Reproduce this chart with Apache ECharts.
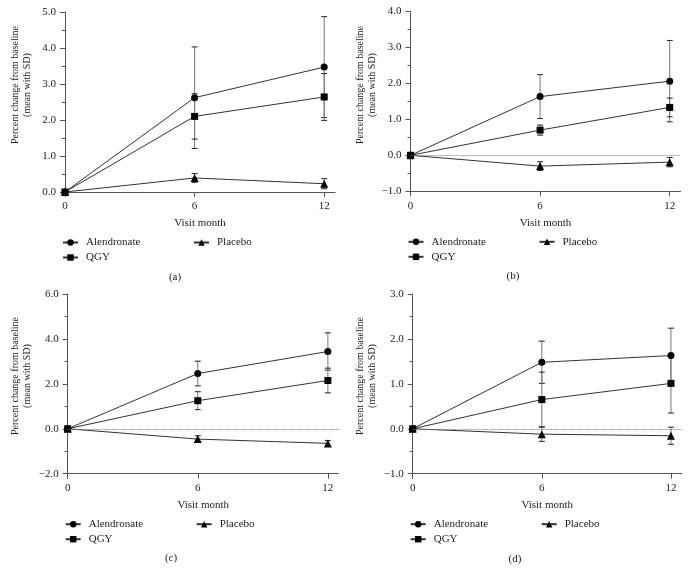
<!DOCTYPE html>
<html>
<head>
<meta charset="utf-8">
<script src="https://cdn.jsdelivr.net/npm/echarts@6/dist/echarts.min.js"></script>
<style>
html,body{margin:0;padding:0;background:#fff;}
#c{width:689px;height:580px;}
</style>
</head>
<body>
<div id="c"></div>
<script>
// ---- data ----
const months = [0, 6, 12];
const xTicks = [0, 6, 12];
const panelLabels = ['(a)', '(b)', '(c)', '(d)'];
const seriesNames = ['Alendronate', 'QGY', 'Placebo'];
const yTitle = 'Percent change from baseline\n(mean with SD)';
const xTitle = 'Visit month';

const alendA = [0, 2.62, 3.47];
const alendSdA = [0, 1.41, 1.40];
const qgyA = [0, 2.10, 2.64];
const qgySdA = [0, 0.63, 0.65];
const placA = [0, 0.39, 0.23];
const placSdA = [0, 0.12, 0.14];

const alendB = [0, 1.63, 2.06];
const alendSdB = [0, 0.61, 1.13];
const qgyB = [0, 0.70, 1.33];
const qgySdB = [0, 0.14, 0.26];
const placB = [0, -0.30, -0.19];
const placSdB = [0, 0.12, 0.13];

const alendC = [0, 2.46, 3.44];
const alendSdC = [0, 0.55, 0.83];
const qgyC = [0, 1.25, 2.15];
const qgySdC = [0, 0.40, 0.55];
const placC = [0, -0.46, -0.65];
const placSdC = [0, 0.15, 0.13];

const alendD = [0, 1.48, 1.63];
const alendSdD = [0, 0.47, 0.61];
const qgyD = [0, 0.65, 1.01];
const qgySdD = [0, 0.61, 0.66];
const placD = [0, -0.12, -0.155];
const placSdD = [0, 0.16, 0.19];

const yMins = [0, -1, -2, -1];
const yMaxs = [5, 4, 6, 3];
const ySteps = [1, 1, 2, 1];

// ---- layout ----
const FONT = "'Liberation Serif','DejaVu Serif',serif";
const grids = [
  {left: 65, top: 12, width: 270, height: 180},
  {left: 410.5, top: 11.3, width: 270, height: 180},
  {left: 67.7, top: 294, width: 271, height: 179.7},
  {left: 412.7, top: 294, width: 269, height: 179.7}
];
const yTitlePos = [[21, 85], [366, 85], [21, 376], [366, 376]];
const panelLabelPos = [[175, 277], [513, 276], [171, 558.5], [515, 559]];
const panelData = [
  [[alendA, alendSdA], [qgyA, qgySdA], [placA, placSdA]],
  [[alendB, alendSdB], [qgyB, qgySdB], [placB, placSdB]],
  [[alendC, alendSdC], [qgyC, qgySdC], [placC, placSdC]],
  [[alendD, alendSdD], [qgyD, qgySdD], [placD, placSdD]]
];
const symbols = ['circle', 'rect', 'triangle'];
const symSizes = [7, 7, 8];

function fmt(v) {
  const s = Math.abs(v).toFixed(1);
  return v < -1e-9 ? '\u2212' + s : s;
}

const xAxes = [], yAxes = [], series = [], legends = [], graphics = [];

grids.forEach((g, i) => {
  xAxes.push({
    gridIndex: i, type: 'value', min: 0, max: 12.5,
    axisLine: {show: true, onZero: false, lineStyle: {color: '#555', width: 1}},
    axisTick: {show: true, customValues: xTicks, length: 5, lineStyle: {color: '#555'}},
    axisLabel: {customValues: xTicks, margin: 9, color: '#222', fontFamily: FONT, fontSize: 11},
    splitLine: {show: false},
    name: xTitle, nameLocation: 'middle', nameGap: 26,
    nameTextStyle: {color: '#222', fontFamily: FONT, fontSize: 11}
  });
  yAxes.push({
    gridIndex: i, type: 'value', min: yMins[i], max: yMaxs[i], interval: ySteps[i],
    axisLine: {show: true, lineStyle: {color: '#555', width: 1}},
    axisTick: {show: true, length: 5, lineStyle: {color: '#555'}},
    minorTick: {show: true, splitNumber: 2, length: 3, lineStyle: {color: '#555'}},
    axisLabel: {margin: 9, color: '#222', fontFamily: FONT, fontSize: 11, formatter: fmt},
    splitLine: {show: false}
  });

  panelData[i].forEach((pair, k) => {
    const means = pair[0], sds = pair[1];
    const errData = [];
    months.forEach((m, j) => {
      if (sds[j] > 0) errData.push([m, means[j] - sds[j], means[j] + sds[j]]);
    });
    series.push({
      type: 'custom', xAxisIndex: i, yAxisIndex: i, z: 2, silent: true,
      data: errData,
      renderItem: function (params, api) {
        const x = api.value(0);
        const lo = api.coord([x, api.value(1)]);
        const hi = api.coord([x, api.value(2)]);
        const hw = 3;
        return {
          type: 'group',
          children: [
            {type: 'line', shape: {x1: lo[0], y1: lo[1], x2: hi[0], y2: hi[1]},
             style: {stroke: '#777', lineWidth: 1}},
            {type: 'line', shape: {x1: lo[0] - hw, y1: lo[1], x2: lo[0] + hw, y2: lo[1]},
             style: {stroke: '#222', lineWidth: 1}},
            {type: 'line', shape: {x1: hi[0] - hw, y1: hi[1], x2: hi[0] + hw, y2: hi[1]},
             style: {stroke: '#222', lineWidth: 1}}
          ]
        };
      }
    });
    const s = {
      type: 'line', name: seriesNames[k], xAxisIndex: i, yAxisIndex: i, z: 3,
      data: months.map((m, j) => [m, means[j]]),
      symbol: symbols[k], symbolSize: symSizes[k], showSymbol: true,
      itemStyle: {color: '#000'},
      lineStyle: {color: '#333', width: 1}
    };
    if (k === 2 && i > 0) {
      s.markLine = {
        silent: true, symbol: ['none', 'none'], label: {show: false},
        lineStyle: {type: 'dotted', color: '#777', width: 1},
        data: [{yAxis: 0}]
      };
    }
    series.push(s);
  });

  const lx = g.left - 3;
  const rowY = g.top + g.height + 45;
  const legendItems = [
    {name: 'Alendronate', left: lx, top: rowY},
    {name: 'Placebo', left: lx + 131, top: rowY},
    {name: 'QGY', left: lx, top: rowY + 15}
  ];
  legendItems.forEach(it => {
    legends.push({
      data: [it.name], left: it.left, top: it.top, padding: 0,
      itemWidth: 15, itemHeight: 8, selectedMode: false,
      textStyle: {color: '#222', fontFamily: FONT, fontSize: 11, padding: [0, 0, 0, 3]}
    });
  });

  graphics.push({
    type: 'text', x: yTitlePos[i][0], y: yTitlePos[i][1], rotation: Math.PI / 2,
    style: {text: yTitle, textAlign: 'center', textVerticalAlign: 'middle',
            font: '10px ' + FONT, fill: '#222', lineHeight: 12}
  });
  graphics.push({
    type: 'text', x: panelLabelPos[i][0], y: panelLabelPos[i][1],
    style: {text: panelLabels[i], textAlign: 'center', textVerticalAlign: 'middle',
            font: '11px ' + FONT, fill: '#222'}
  });
});

const chart = echarts.init(document.getElementById('c'), null, {renderer: 'canvas'});
chart.setOption({
  animation: false,
  backgroundColor: '#fff',
  grid: grids,
  xAxis: xAxes,
  yAxis: yAxes,
  legend: legends,
  series: series,
  graphic: graphics
});
</script>
</body>
</html>
